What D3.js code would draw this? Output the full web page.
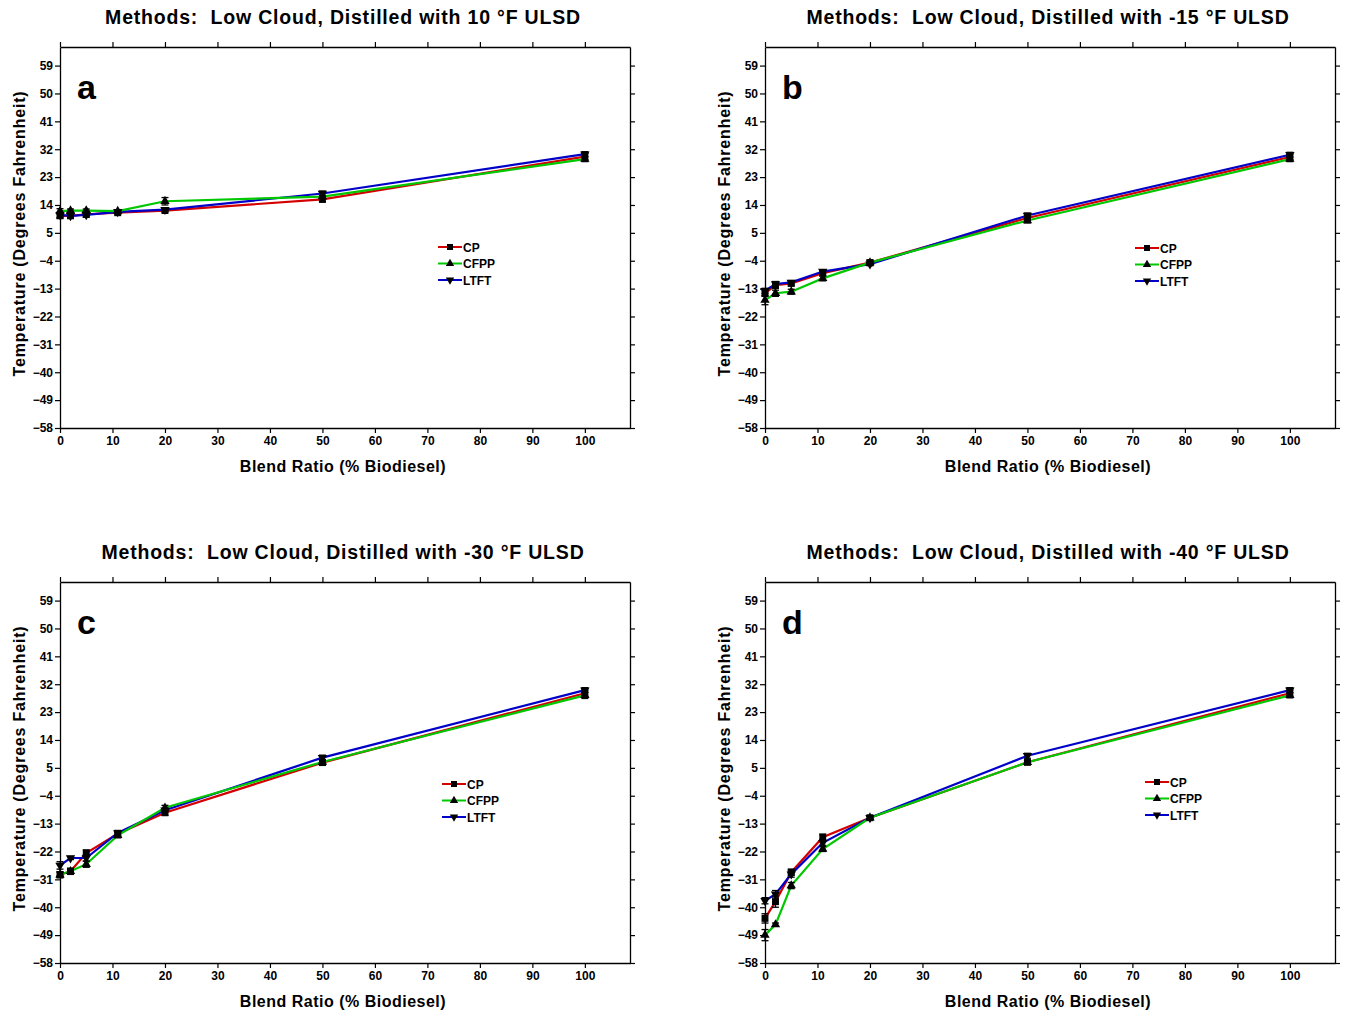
<!DOCTYPE html>
<html><head><meta charset="utf-8">
<script src="https://cdn.jsdelivr.net/npm/d3@7"></script>
<style>body{margin:0;background:#fff}svg{font-family:"Liberation Sans",Arial,sans-serif}</style>
</head><body><svg id="c" width="1348" height="1015"></svg>
<script>
const blend = [0, 2, 5, 11, 20, 50, 100];
const yTicks = [59, 50, 41, 32, 23, 14, 5, -4, -13, -22, -31, -40, -49, -58];
const xTicks = [0, 10, 20, 30, 40, 50, 60, 70, 80, 90, 100];
const seriesNames = ["CP", "CFPP", "LTFT"];
const titles = ["Methods:  Low Cloud, Distilled with 10 \u00b0F ULSD","Methods:  Low Cloud, Distilled with -15 \u00b0F ULSD","Methods:  Low Cloud, Distilled with -30 \u00b0F ULSD","Methods:  Low Cloud, Distilled with -40 \u00b0F ULSD"];
const letters = ["a", "b", "c", "d"];
// values per panel
const cpA = [10.5, 10.5, 11, 11.5, 12.2, 15.8, 29.6];
const cfppA = [12, 12.2, 12.2, 12, 15.2, 16.7, 28.8];
const ltftA = [10.8, 10.5, 10.8, 11.8, 12.5, 17.7, 30.4];
const cpB = [-14.5, -11.9, -11.3, -8.0, -4.6, 9.8, 29.5];
const cfppB = [-16.7, -14.5, -14.0, -9.7, -4.6, 9.0, 28.8];
const ltftB = [-13.7, -11.5, -11.0, -7.5, -5.1, 10.6, 30.2];
const cpC = [-29.5, -28.4, -22.5, -16.3, -9.5, 6.7, 29.1];
const cfppC = [-29.5, -28.4, -26.1, -16.8, -7.9, 6.9, 28.4];
const ltftC = [-26.5, -24.1, -24.1, -16.0, -8.7, 8.3, 30.1];
const cpD = [-43.6, -38.2, -28.7, -17.4, -11.1, 6.8, 29.1];
const cfppD = [-49.0, -45.6, -33.0, -21.2, -11.1, 6.8, 28.4];
const ltftD = [-37.9, -35.8, -29.3, -19.2, -11.1, 8.9, 30.1];
// error (half-width) per series
const errA = [[0.8,0.5,0.5,0.5,0.5,0.8,1.0],[0.8,0.5,0.5,0.5,1.2,0.5,0.8],[0.8,0.5,0.8,0.5,0.5,0.8,0.8]];
const errB = [[1.0,1.0,0.8,0.8,0.8,0.8,0.8],[1.5,1.0,0.8,0.8,0.5,0.8,0.8],[0.8,0.8,0.5,0.5,0.5,0.8,0.8]];
const errC = [[1.0,1.0,1.0,1.0,0.8,0.8,1.0],[0.8,0.8,1.0,0.8,0.8,0.8,1.0],[1.2,0.5,1.0,0.8,0.5,0.8,0.8]];
const errD = [[1.5,1.8,1.0,1.0,0.5,0.8,1.0],[1.8,0.5,1.0,0.8,0.5,0.5,0.8],[1.0,1.2,1.0,0.8,0.5,0.8,0.8]];

const panels = [
  {vals:[cpA,cfppA,ltftA], err:errA, left:60, top:47, leg:[438,247]},
  {vals:[cpB,cfppB,ltftB], err:errB, left:765, top:47, leg:[1135,248]},
  {vals:[cpC,cfppC,ltftC], err:errC, left:60, top:582, leg:[442,784]},
  {vals:[cpD,cfppD,ltftD], err:errD, left:765, top:582, leg:[1145,782]}
];
const colors = ["#d40000", "#00c800", "#0000c8"];
const W = 570, H = 381;
const svg = d3.select("#c");
const sym = [d3.symbolSquare, d3.symbolTriangle, d3.symbolTriangle];

panels.forEach((p, i) => {
  const g = svg.append("g").attr("transform", `translate(${p.left},${p.top})`);
  const x = d3.scaleLinear().domain([0, 108.6]).range([0, W]);
  const y = d3.scaleLinear().domain([-58, 65]).range([H, 0]);
  const ax = (a) => a.tickSizeOuter(0);
  g.append("g").attr("transform", `translate(0,${H})`).call(ax(d3.axisBottom(x).tickValues(xTicks).tickSize(5).tickPadding(3)));
  g.append("g").call(ax(d3.axisTop(x).tickValues(xTicks).tickSize(5).tickFormat("")));
  g.append("g").call(ax(d3.axisLeft(y).tickValues(yTicks).tickSize(5).tickPadding(2)));
  g.append("g").attr("transform", `translate(${W},0)`).call(ax(d3.axisRight(y).tickValues(yTicks).tickSize(5).tickFormat("")));
  g.selectAll(".domain").attr("stroke", "#000").attr("stroke-width", 1.3);
  g.selectAll(".tick line").attr("stroke", "#000").attr("stroke-width", 1.2);
  g.selectAll(".tick text").attr("font-size", 12).attr("font-weight", "bold").attr("fill", "#000").attr("font-family", "Liberation Sans, Arial, sans-serif");
  // lines
  const line = d3.line().x((d, k) => x(blend[k])).y(d => y(d));
  [0, 2, 1].forEach(s => {
    g.append("path").datum(p.vals[s]).attr("d", line).attr("fill", "none").attr("stroke", colors[s]).attr("stroke-width", 2.2);
  });
  // error bars & markers
  [0, 1, 2].forEach(s => {
    p.vals[s].forEach((v, k) => {
      const e = p.err[s][k];
      const cx = x(blend[k]);
      g.append("line").attr("x1", cx).attr("x2", cx).attr("y1", y(v - e)).attr("y2", y(v + e)).attr("stroke", "#000").attr("stroke-width", 1.3);
      [v - e, v + e].forEach(w => g.append("line").attr("x1", cx - 3.5).attr("x2", cx + 3.5).attr("y1", y(w)).attr("y2", y(w)).attr("stroke", "#000").attr("stroke-width", 1.3));
      g.append("path").attr("d", d3.symbol().type(sym[s]).size(s === 0 ? 48 : 38)())
        .attr("transform", `translate(${cx},${y(v)})${s === 2 ? " rotate(180)" : ""}`).attr("fill", "#000");
    });
  });
  // title
  g.append("text").attr("x", W / 2 - 2).attr("y", -23).attr("text-anchor", "middle").attr("font-size", 19.5).attr("letter-spacing", 0.8).style("white-space", "pre").attr("font-weight", "bold").text(titles[i]);
  // letter
  g.append("text").attr("x", 17).attr("y", 52).attr("font-size", 34).attr("font-weight", "bold").text(letters[i]);
  // axis labels
  g.append("text").attr("x", W / 2 - 2).attr("y", H + 44).attr("text-anchor", "middle").attr("font-size", 16).attr("letter-spacing", 0.5).attr("font-weight", "bold").text("Blend Ratio (% Biodiesel)");
  g.append("text").attr("transform", `translate(-35,${H / 2 - 4}) rotate(-90)`).attr("text-anchor", "middle").attr("font-size", 16).attr("letter-spacing", 0.8).attr("font-weight", "bold").text("Temperature (Degrees Fahrenheit)");
  // legend
  const lg = svg.append("g").attr("transform", `translate(${p.leg[0]},${p.leg[1]})`);
  seriesNames.forEach((n, s) => {
    const yy = s * 16.5;
    lg.append("line").attr("x1", 0).attr("x2", 24).attr("y1", yy).attr("y2", yy).attr("stroke", colors[s]).attr("stroke-width", 2);
    lg.append("path").attr("d", d3.symbol().type(sym[s]).size(s === 0 ? 36 : 30)()).attr("transform", `translate(12,${yy})${s === 2 ? " rotate(180)" : ""}`).attr("fill", "#000");
    lg.append("text").attr("x", 25).attr("y", yy + 4.5).attr("font-size", 12).attr("font-weight", "bold").text(n);
  });
});
</script></body></html>
